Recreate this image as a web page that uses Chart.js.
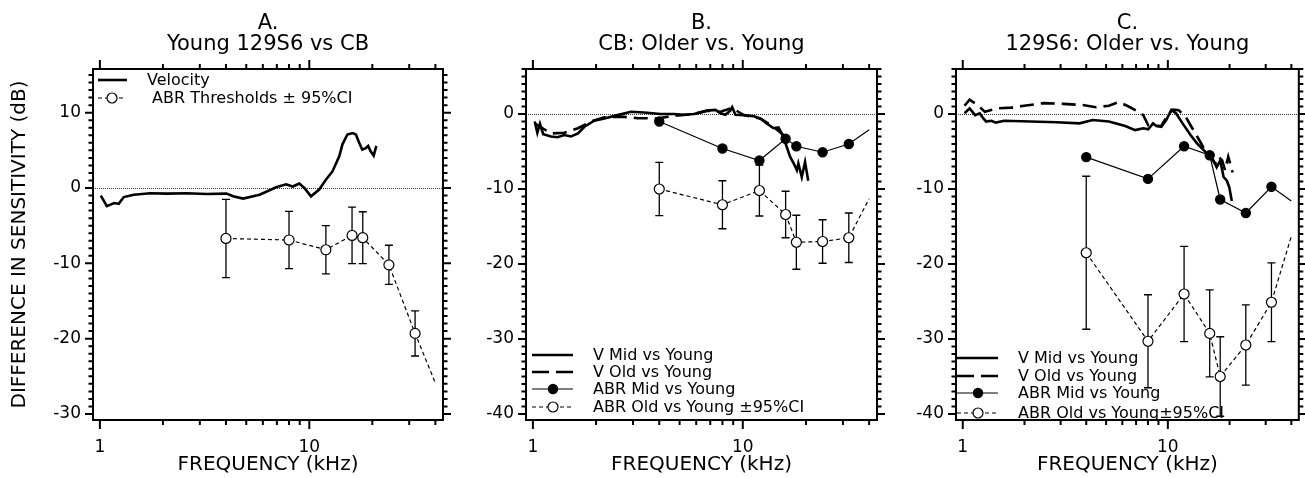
<!DOCTYPE html>
<html>
<head>
<meta charset="utf-8">
<script src="https://cdn.jsdelivr.net/npm/chart.js@4.4.1/dist/chart.umd.min.js"></script>
<style>
  html, body { margin: 0; padding: 0; background: #fff; }
  #wrap { position: relative; width: 1305px; height: 478px; overflow: hidden; }
  canvas { position: absolute; top: 0; }
</style>
</head>
<body>
<div id="wrap">
  <canvas id="panelA" width="460" height="478" style="left:0px"></canvas>
  <canvas id="panelB" width="430" height="478" style="left:460px"></canvas>
  <canvas id="panelC" width="415" height="478" style="left:890px"></canvas>
</div>
<script>
/* DATA: frequency in kHz, difference in dB */
const xTickValues = [1, 2, 3, 4, 5, 6, 7, 8, 9, 10, 20, 30, 40];
const xLabelValues = [1, 10];
const yLabelsA = [10, 0, -10, -20, -30];
const yLabelsBC = [0, -10, -20, -30, -40];

// Panel A: young 129S6 vs CB
const velFreqA = [1.01, 1.08, 1.17, 1.23, 1.30, 1.45, 1.74, 2.09, 2.6, 3.23, 4.02, 4.33, 4.83, 5.79, 6.95, 7.75, 8.33, 8.96, 9.47, 10.19, 11.15, 12.0, 12.9, 13.9, 14.4, 15.2, 16.1, 16.7, 17.3, 17.9, 18.6, 19.1, 19.6, 20.3, 20.9];
const velDbA = [-1.0, -2.4, -2.0, -2.1, -1.2, -0.9, -0.7, -0.75, -0.7, -0.8, -0.75, -1.1, -1.4, -0.9, 0.1, 0.5, 0.2, 0.6, 0, -1.1, -0.2, 1.1, 2.2, 4.2, 5.8, 7.1, 7.3, 7.1, 6.0, 5.1, 5.3, 5.6, 4.9, 4.3, 5.6];
const abrFreq = [4, 8, 12, 16, 18, 24, 32, 40];
const abrDbA = [-6.7, -6.9, -8.2, -6.3, -6.6, -10.2, -19.3, -25.9];
const abrCiA = [5.2, 3.8, 3.2, 3.75, 3.45, 2.6, 3.0, null];

// Panel B: CB older vs young
const vMidFreqB = [1.02, 1.05, 1.08, 1.12, 1.22, 1.31, 1.41, 1.52, 1.64, 1.76, 1.96, 2.19, 2.53, 2.93, 3.39, 4.06, 4.7, 5.25, 5.85, 6.77, 7.42, 7.83, 8.26, 8.72, 8.9, 9.23, 10.1, 11.3, 12.1, 13.0, 14.0, 14.8, 15.6, 16.2, 16.8, 17.5, 18.1, 18.4, 19.1, 19.8, 20.5];
const vMidDbB = [-1.0, -2.5, -1.3, -2.7, -3.0, -3.1, -2.8, -3.0, -2.6, -1.7, -0.9, -0.6, -0.15, 0.3, 0.2, 0, 0, -0.1, 0, 0.45, 0.55, 0.1, -0.1, 0.45, 0.9, -0.1, -0.15, -0.3, -0.6, -1.25, -1.9, -1.8, -3.0, -4.4, -5.7, -6.6, -7.5, -6.6, -8.4, -6.4, -8.9];
const vOldFreqB = [1.02, 1.22, 1.41, 1.64, 1.89, 2.19, 2.62, 3.15, 3.92, 4.54, 5.85, 6.77, 7.83, 8.9, 10.1, 12.1, 14.0, 15.6];
const vOldDbB = [-1.25, -2.6, -2.5, -1.9, -1.0, -0.45, -0.35, -0.55, -0.6, -0.3, 0, 0.45, 0.3, 0.8, -0.15, -0.6, -1.7, -2.8];
const abrMidDbB = [-1.0, -4.6, -6.2, -3.3, -4.3, -5.1, -4.0, -2.1];
const abrOldDbB = [-10.0, -12.1, -10.2, -13.4, -17.1, -17.0, -16.5, -11.3];
const abrOldCiB = [3.55, 3.2, 3.4, 3.1, 3.6, 2.9, 3.3, null];

// Panel C: 129S6 older vs young
const vMidFreqC = [1.02, 1.08, 1.15, 1.21, 1.26, 1.30, 1.38, 1.45, 1.59, 2.14, 2.87, 3.71, 4.3, 5.16, 6.2, 6.93, 7.59, 8.02, 8.47, 8.79, 9.29, 9.82, 10.4, 10.96, 11.8, 12.9, 13.9, 15.0, 16.1, 16.7, 17.3, 18.0, 18.7, 19.4, 19.95, 20.5];
const vMidDbC = [0.1, 0.75, -0.15, 0.1, -0.6, -1.0, -0.9, -1.15, -0.9, -1.0, -1.1, -1.25, -0.8, -1.0, -1.6, -2.15, -1.9, -2.05, -1.25, -1.6, -1.7, -0.8, 0.55, 0.1, -1.25, -2.8, -3.95, -4.85, -5.7, -6.2, -7.1, -6.2, -8.4, -8.9, -9.8, -11.6];
const vOldFreqC = [1.02, 1.08, 1.18, 1.23, 1.28, 1.48, 1.72, 1.99, 2.48, 3.09, 3.85, 4.46, 5.16, 5.77, 6.44, 7.18, 7.59, 8.02, 9.29, 10.0, 10.6, 11.3, 12.2, 12.9, 13.9, 15.0, 16.1, 17.0, 17.7, 18.4, 19.0, 19.7, 20.7];
const vOldDbC = [1.1, 1.9, 1.2, 0.75, 0.3, 0.75, 0.85, 1.1, 1.45, 1.35, 1.2, 0.9, 1.1, 1.6, 1.0, 0.3, -0.15, -1.5, -1.6, -0.1, 0.6, 0.5, -0.35, -1.5, -3.0, -4.6, -5.7, -6.6, -5.7, -6.2, -7.5, -5.7, -7.8];
const abrMidDbC = [-5.75, -8.65, -4.3, -5.5, -11.4, -13.2, -9.7, -11.6];
const abrOldDbC = [-18.5, -30.3, -24.0, -29.25, -35.0, -30.8, -25.1, -16.3];
const abrOldCiC = [10.2, 6.2, 6.35, 5.8, 5.3, 5.35, 5.25, null];

const FONT = '"DejaVu Sans", sans-serif';
const INK = "#000";

/* DATASET HELPERS */
function pts(freqs, dbs) {
  return freqs.map((f, i) => ({ x: f, y: dbs[i] }));
}

function velLine(freqs, dbs, dashed) {
  return {
    data: pts(freqs, dbs),
    borderColor: INK,
    borderWidth: 2.6,
    borderDash: dashed ? [14, 7] : [],
    pointRadius: 0,
    tension: 0,
    fill: false
  };
}

function abrLine(freqs, dbs, ci, open) {
  return {
    data: pts(freqs, dbs),
    ci: ci,
    borderColor: INK,
    borderWidth: 1.2,
    borderDash: open ? [4, 3] : [],
    pointRadius: freqs.map(f => (f < 40 ? (open ? 5 : 4.6) : 0)),
    pointBorderWidth: 1.2,
    pointBorderColor: INK,
    pointBackgroundColor: open ? "#fff" : INK,
    tension: 0,
    fill: false
  };
}

/* FRAME, TICKS, ZERO LINE, ERROR BARS, LEGEND */
function panelPlugin(leg) {
  return {
    id: "panelDecor",
    beforeDatasetsDraw(chart) {
      const { ctx, chartArea: a, scales } = chart;
      const xs = scales.x, ys = scales.y;
      ctx.save();
      ctx.beginPath();
      ctx.rect(a.left, a.top, a.right - a.left, a.bottom - a.top);
      ctx.clip();

      // dotted zero reference
      const y0 = Math.round(ys.getPixelForValue(0)) + 0.5;
      ctx.strokeStyle = "#333";
      ctx.lineWidth = 1;
      ctx.setLineDash([1, 1]);
      ctx.beginPath();
      ctx.moveTo(a.left, y0);
      ctx.lineTo(a.right, y0);
      ctx.stroke();
      ctx.setLineDash([]);

      // 95% CI bars
      ctx.strokeStyle = INK;
      ctx.lineWidth = 1.3;
      chart.data.datasets.forEach(ds => {
        if (!ds.ci) return;
        ds.data.forEach((p, i) => {
          const c = ds.ci[i];
          if (c == null) return;
          const x = xs.getPixelForValue(p.x);
          const yt = ys.getPixelForValue(p.y + c);
          const yb = ys.getPixelForValue(p.y - c);
          ctx.beginPath();
          ctx.moveTo(x, yt); ctx.lineTo(x, yb);
          ctx.moveTo(x - 4, yt); ctx.lineTo(x + 4, yt);
          ctx.moveTo(x - 4, yb); ctx.lineTo(x + 4, yb);
          ctx.stroke();
        });
      });
      ctx.restore();
    },
    afterDraw(chart) {
      const { ctx, chartArea: a, scales } = chart;
      const xs = scales.x, ys = scales.y;
      ctx.save();
      ctx.strokeStyle = INK;
      ctx.lineWidth = 2;
      ctx.strokeRect(a.left, a.top, a.right - a.left, a.bottom - a.top);

      ctx.beginPath();
      xTickValues.forEach(v => {
        const x = xs.getPixelForValue(v);
        const len = (v === 1 || v === 10) ? 9 : 5;
        ctx.moveTo(x, a.top); ctx.lineTo(x, a.top - len);
        ctx.moveTo(x, a.bottom); ctx.lineTo(x, a.bottom + len);
      });
      for (let v = Math.ceil(ys.min); v <= Math.floor(ys.max); v++) {
        const y = ys.getPixelForValue(v);
        const len = v % 10 === 0 ? 8 : 4.5;
        ctx.moveTo(a.left, y); ctx.lineTo(a.left - len, y);
        ctx.moveTo(a.right, y); ctx.lineTo(a.right + len, y);
      }
      ctx.stroke();

      // legend
      ctx.font = "16px " + FONT;
      ctx.fillStyle = INK;
      ctx.textBaseline = "middle";
      ctx.textAlign = "left";
      leg.rows.forEach(r => {
        const y = (leg.fromTop ? a.top : a.bottom) + r.dy;
        const x0 = a.left + leg.x0, x1 = a.left + (r.x1 || leg.x1), xm = a.left + (r.mk || leg.mk);
        const thick = r.kind === "solid" || r.kind === "dashed";
        ctx.lineWidth = thick ? 2.6 : 1.2;
        ctx.setLineDash(r.kind === "dashed" ? [17, 7] : r.kind === "open" ? [4, 3] : []);
        ctx.beginPath();
        ctx.moveTo(x0, y); ctx.lineTo(x1, y);
        ctx.stroke();
        ctx.setLineDash([]);
        if (r.kind === "open" || r.kind === "filled") {
          ctx.beginPath();
          ctx.arc(xm, y, r.kind === "open" ? 5 : 4.6, 0, Math.PI * 2);
          ctx.fillStyle = r.kind === "open" ? "#fff" : INK;
          ctx.fill();
          ctx.lineWidth = 1.2;
          ctx.stroke();
          ctx.fillStyle = INK;
        }
        ctx.fillText(r.label, a.left + leg.tx, y + 1);
      });
      ctx.restore();
    }
  };
}

/* PANEL SETUP */
function makePanel(id, cfg) {
  return new Chart(document.getElementById(id), {
    type: "line",
    data: { datasets: cfg.datasets },
    options: {
      responsive: false,
      animation: false,
      layout: { padding: { left: 0, right: cfg.padRight, top: 0, bottom: 0 } },
      plugins: {
        legend: { display: false },
        tooltip: { enabled: false },
        title: {
          display: true,
          fullSize: false,
          text: cfg.title,
          color: INK,
          font: { family: FONT, size: 21, weight: "normal", lineHeight: 1 },
          padding: { top: 13, bottom: 14 }
        }
      },
      scales: {
        x: {
          type: "logarithmic",
          min: 0.927,
          max: cfg.xMax,
          grid: { display: false, drawTicks: false },
          border: { display: false },
          ticks: {
            color: INK,
            font: { family: FONT, size: 17 },
            padding: 17,
            autoSkip: false,
            maxRotation: 0,
            callback: v => String(v)
          },
          afterBuildTicks: s => { s.ticks = xLabelValues.map(v => ({ value: v })); },
          afterFit: s => { s.height = 58; },
          title: {
            display: true,
            text: "FREQUENCY (kHz)",
            color: INK,
            font: { family: FONT, size: 20 },
            padding: { top: 0, bottom: 1 }
          }
        },
        y: {
          type: "linear",
          min: cfg.yMin,
          max: cfg.yMax,
          grid: { display: false, drawTicks: false },
          border: { display: false },
          ticks: {
            color: INK,
            font: { family: FONT, size: 17 },
            padding: 12,
            callback: v => String(v)
          },
          afterBuildTicks: s => { s.ticks = cfg.yLabels.map(v => ({ value: v })); },
          afterFit: s => { s.width = cfg.yWidth; },
          title: {
            display: !!cfg.yTitle,
            text: cfg.yTitle || "",
            color: INK,
            font: { family: FONT, size: 20 },
            padding: { top: 8, bottom: 0 }
          }
        }
      }
    },
    plugins: [panelPlugin(cfg.legend)]
  });
}

makePanel("panelA", {
  title: ["A.", "Young 129S6 vs CB"],
  yTitle: "DIFFERENCE IN SENSITIVITY (dB)",
  yWidth: 93, padRight: 17, xMax: 43.5,
  yMin: -30.8, yMax: 15.8, yLabels: yLabelsA,
  datasets: [
    velLine(velFreqA, velDbA, false),
    abrLine(abrFreq, abrDbA, abrCiA, true)
  ],
  legend: {
    fromTop: true, x0: 5, x1: 34, mk: 19, tx: 54,
    rows: [
      { dy: 11, kind: "solid", label: "Velocity" },
      { dy: 29, kind: "open", x1: 32, label: " ABR Thresholds ± 95%CI" }
    ]
  }
});

makePanel("panelB", {
  title: ["B.", "CB: Older vs. Young"],
  yWidth: 66, padRight: 13, xMax: 43.6,
  yMin: -40.8, yMax: 6.0, yLabels: yLabelsBC,
  datasets: [
    velLine(vMidFreqB, vMidDbB, false),
    velLine(vOldFreqB, vOldDbB, true),
    abrLine(abrFreq, abrMidDbB, null, false),
    abrLine(abrFreq, abrOldDbB, abrOldCiB, true)
  ],
  legend: {
    fromTop: false, x0: 6, x1: 47, mk: 27, tx: 67,
    rows: [
      { dy: -65, kind: "solid", label: "V Mid vs Young" },
      { dy: -48, kind: "dashed", label: "V Old vs Young" },
      { dy: -31, kind: "filled", label: "ABR Mid vs Young" },
      { dy: -13, kind: "open", label: "ABR Old vs Young ±95%CI" }
    ]
  }
});

makePanel("panelC", {
  title: ["C.", "129S6: Older vs. Young"],
  yWidth: 66, padRight: 2, xMax: 43.5,
  yMin: -40.8, yMax: 6.0, yLabels: yLabelsBC,
  datasets: [
    velLine(vMidFreqC, vMidDbC, false),
    velLine(vOldFreqC, vOldDbC, true),
    abrLine(abrFreq, abrMidDbC, null, false),
    abrLine(abrFreq, abrOldDbC, abrOldCiC, true)
  ],
  legend: {
    fromTop: false, x0: 1, x1: 42, mk: 22, tx: 62,
    rows: [
      { dy: -62, kind: "solid", label: "V Mid vs Young" },
      { dy: -44, kind: "dashed", label: "V Old vs Young" },
      { dy: -27, kind: "filled", label: "ABR Mid vs Young" },
      { dy: -7, kind: "open", label: "ABR Old vs Young±95%CI" }
    ]
  }
});
</script>
</body>
</html>
